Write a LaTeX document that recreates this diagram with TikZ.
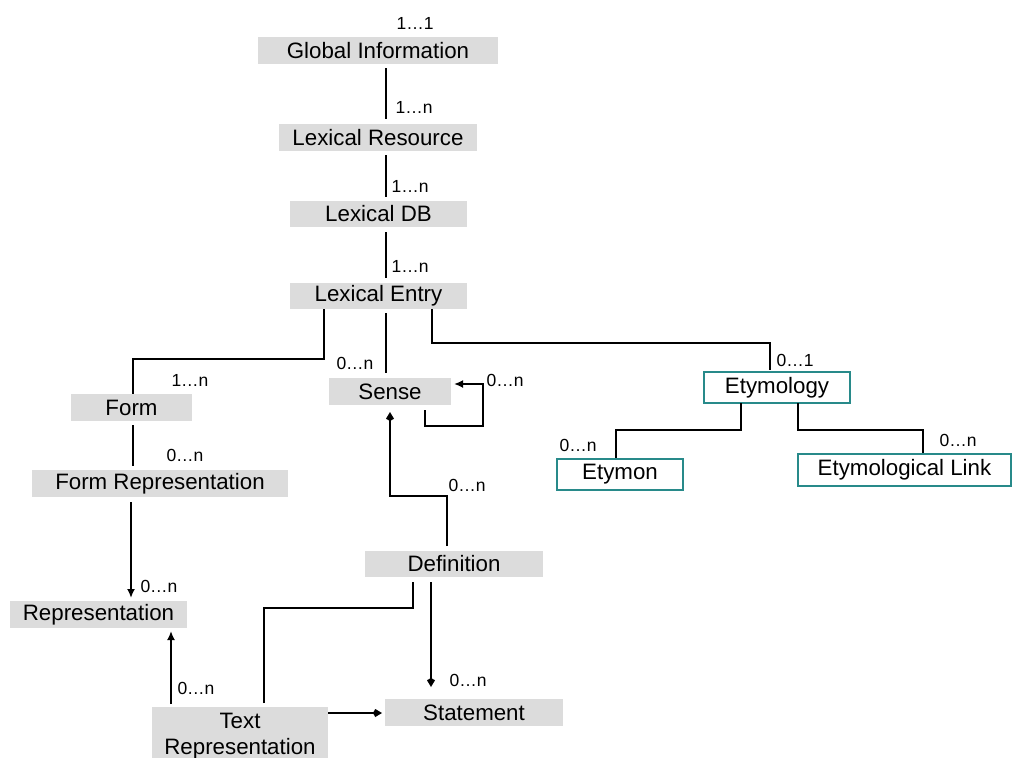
\documentclass[tikz,border=0pt]{standalone}
\usepackage{fontspec}
\setmainfont{Liberation Sans}
\usetikzlibrary{arrows.meta}
\definecolor{boxgray}{RGB}{220,220,220}
\definecolor{teal2}{RGB}{40,138,138}
\begin{document}
\begin{tikzpicture}[x=1pt,y=-1pt,
  conn/.style={line width=2pt,black},
  card/.style={font=\fontsize{17.5}{19}\selectfont,inner sep=0pt},
  lbl/.style={font=\fontsize{22.3}{26}\selectfont,inner sep=0pt},
  arr/.style={-{Latex[length=9pt,width=8pt]}},
  dia/.style={-{Kite[length=9pt,width=8pt]}}]
\useasboundingbox (0,0) rectangle (1013,758);
% gray boxes
\fill[boxgray] (258,37) rectangle (498,64);
\node[lbl] (gi) at (378,50.5) {Global Information};
\fill[boxgray] (279,124) rectangle (477,151);
\node[lbl] (lr) at (378,137.5) {Lexical Resource};
\fill[boxgray] (290,201) rectangle (467,227);
\node[lbl] (ldb) at (378.5,214) {Lexical DB};
\fill[boxgray] (290,283) rectangle (467,309);
\node[lbl] (le) at (378.5,296) {Lexical Entry};
\fill[boxgray] (329,378) rectangle (451,405);
\node[lbl] (se) at (390,391.5) {Sense};
\fill[boxgray] (71,394) rectangle (192,421);
\node[lbl] (fo) at (131.5,407.5) {Form};
\fill[boxgray] (32,470) rectangle (288,497);
\node[lbl] (fr) at (160,483.5) {Form Representation};
\fill[boxgray] (10,601) rectangle (187,628);
\node[lbl] (re) at (98.5,614.5) {Representation};
\fill[boxgray] (365,551) rectangle (543,577);
\node[lbl] (de) at (454,564) {Definition};
\fill[boxgray] (152,707) rectangle (328,762);
\node[lbl,align=center] (tr) at (240,736) {Text\\Representation};
\fill[boxgray] (385,699) rectangle (563,726);
\node[lbl] (st) at (474,712.5) {Statement};
% teal boxes
\draw[teal2,line width=2pt] (704,372) rectangle (850,403);
\node[lbl] (et) at (777,387.5) {Etymology};
\draw[teal2,line width=2pt] (557,459) rectangle (683,490);
\node[lbl] (em) at (620,474.5) {Etymon};
\draw[teal2,line width=2pt] (798,454) rectangle (1011,486);
\node[lbl] (el) at (904.5,470) {Etymological Link};
% coordinates
\coordinate (a1) at (386,68);  \coordinate (a2) at (386,119);
\coordinate (b1) at (386,155); \coordinate (b2) at (386,197);
\coordinate (c1) at (386,232); \coordinate (c2) at (386,278);
\coordinate (d1) at (386,313); \coordinate (d2) at (386,373);
\coordinate (f1) at (324,309); \coordinate (f2) at (133,394);
\coordinate (g1) at (432,309); \coordinate (g2) at (770,370);
\coordinate (s1) at (425,410); \coordinate (s2) at (454,384);
\coordinate (h1) at (447,546); \coordinate (h2) at (390,412);
\coordinate (i1) at (133,425); \coordinate (i2) at (133,466);
\coordinate (j1) at (131,502); \coordinate (j2) at (131,598);
\coordinate (k1) at (171,704); \coordinate (k2) at (171,631);
\coordinate (l1) at (264,703); \coordinate (l2) at (413,582);
\coordinate (m1) at (431,582); \coordinate (m2) at (431,687);
\coordinate (n1) at (328,713); \coordinate (n2) at (382,713);
\coordinate (o1) at (741,403); \coordinate (o2) at (616,458);
\coordinate (p1) at (798,403); \coordinate (p2) at (923,453);
% connectors
\draw[conn] (a1) -- (a2);
\draw[conn] (b1) -- (b2);
\draw[conn] (c1) -- (c2);
\draw[conn] (d1) -- (d2);
\draw[conn] (f1) |- (133,359) -- (f2);
\draw[conn] (g1) |- (770,343) -- (g2);
\draw[conn,arr] (s1) |- (483,426) |- (s2);
\draw[conn,dia] (h1) |- (390,496) -- (h2);
\draw[conn] (i1) -- (i2);
\draw[conn,arr] (j1) -- (j2);
\draw[conn,arr] (k1) -- (k2);
\draw[conn] (l1) |- (413,608) -- (l2);
\draw[conn,dia] (m1) -- (m2);
\draw[conn,dia] (n1) -- (n2);
\draw[conn] (o1) |- (616,430) -- (o2);
\draw[conn] (p1) |- (923,430) -- (p2);
% cardinalities
\node[card] (c11) at (415,23) {1…1};
\node[card] (c12) at (414,107) {1…n};
\node[card] (c13) at (410,186) {1…n};
\node[card] (c14) at (410,266) {1…n};
\node[card] (c15) at (355,363) {0…n};
\node[card] (c16) at (190,380) {1…n};
\node[card] (c17) at (795,360) {0…1};
\node[card] (c18) at (505,380) {0…n};
\node[card] (c19) at (467,485) {0…n};
\node[card] (c20) at (185,455) {0…n};
\node[card] (c21) at (159,586) {0…n};
\node[card] (c22) at (196,688) {0…n};
\node[card] (c23) at (468,680) {0…n};
\node[card] (c24) at (578,445) {0…n};
\node[card] (c25) at (958,440) {0…n};
\end{tikzpicture}
\end{document}
